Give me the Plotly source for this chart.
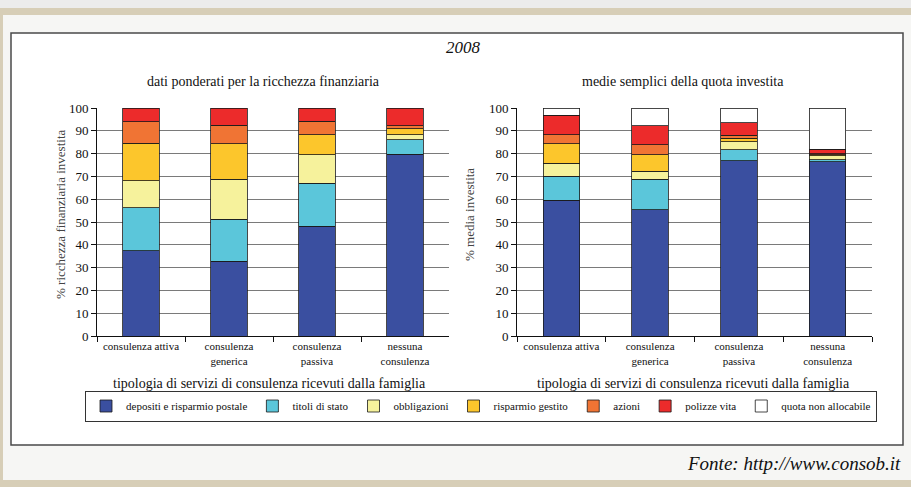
import plotly.graph_objects as go

W, H = 911, 487

# Categories (advisory services received by the household)
categories = ["consulenza attiva", "consulenza<br>generica", "consulenza<br>passiva", "nessuna<br>consulenza"]

series_names = ["depositi e risparmio postale", "titoli di stato", "obbligazioni",
                "risparmio gestito", "azioni", "polizze vita", "quota non allocabile"]
series_colors = ["#3a4fa0", "#5bc6da", "#f6f29c", "#fcc62c", "#f07434", "#ec2b2b", "#ffffff"]

# Left panel: weighted by financial wealth (%)
depositi_L = [37.5, 32.8, 48.1, 79.7]
titoli_L = [18.7, 18.4, 19.0, 6.3]
obbligazioni_L = [11.8, 17.6, 12.3, 2.3]
gestito_L = [16.6, 15.6, 8.8, 2.5]
azioni_L = [9.4, 8.0, 5.9, 1.5]
polizze_L = [6.0, 7.6, 5.9, 7.7]

# Right panel: simple means of invested share (%)
depositi_R = [59.6, 55.3, 76.8, 76.5]
titoli_R = [10.5, 13.5, 5.0, 0.7]
obbligazioni_R = [5.6, 3.4, 3.5, 1.8]
gestito_R = [8.6, 7.2, 1.5, 0.5]
azioni_R = [3.9, 4.4, 1.3, 0.5]
polizze_R = [8.6, 8.4, 5.5, 2.0]
quota_R = [3.2, 7.8, 6.4, 18.0]

y_ticks = list(range(0, 101, 10))

left_series = [depositi_L, titoli_L, obbligazioni_L, gestito_L, azioni_L, polizze_L]
right_series = [depositi_R, titoli_R, obbligazioni_R, gestito_R, azioni_R, polizze_R, quota_R]

SERIF = "Liberation Serif"


def px(x):
    return x / W


def py(y):
    return 1 - y / H


fig = go.Figure()

for i, vals in enumerate(left_series):
    fig.add_trace(go.Bar(
        x=categories, y=vals, name=series_names[i], legendgroup=series_names[i],
        marker=dict(color=series_colors[i], line=dict(color="#1a1a1a", width=0.8)),
        width=0.41, xaxis="x", yaxis="y", showlegend=True,
    ))

for i, vals in enumerate(right_series):
    fig.add_trace(go.Bar(
        x=categories, y=vals, name=series_names[i], legendgroup=series_names[i],
        marker=dict(color=series_colors[i], line=dict(color="#1a1a1a", width=0.8)),
        width=0.41, xaxis="x2", yaxis="y2", showlegend=(i == 6),
    ))

plot_top, plot_bottom = 108, 336
axis_common = dict(
    showline=True, linecolor="#111", linewidth=1,
    tickfont=dict(family=SERIF, size=11, color="#111"),
)
yaxis_common = dict(
    range=[0, 100], tickvals=y_ticks, ticks="outside", ticklen=5, tickcolor="#111",
    showgrid=True, gridcolor="#7a7a7a", gridwidth=1.2, zeroline=False,
    showline=True, linecolor="#111", linewidth=1,
    tickfont=dict(family=SERIF, size=13, color="#111"),
)

fig.update_layout(
    width=W, height=H,
    margin=dict(l=0, r=0, t=0, b=0, autoexpand=False),
    paper_bgcolor="#f6f6f4", plot_bgcolor="rgba(0,0,0,0)",
    barmode="stack",
    xaxis=dict(domain=[px(97), px(449)], anchor="y", ticks="outside", ticklen=5,
               tickcolor="#111", tickson="boundaries", **axis_common),
    yaxis=dict(domain=[py(plot_bottom), py(plot_top)], anchor="x", **yaxis_common),
    xaxis2=dict(domain=[px(517), px(872)], anchor="y2", ticks="outside", ticklen=5,
                tickcolor="#111", tickson="boundaries", **axis_common),
    yaxis2=dict(domain=[py(plot_bottom), py(plot_top)], anchor="x2", **yaxis_common),
    legend=dict(
        orientation="h", x=px(481), xanchor="center", y=py(406), yanchor="middle",
        font=dict(family=SERIF, size=11, color="#111"), traceorder="normal",
        bgcolor="#ffffff", bordercolor="#333", borderwidth=1, itemwidth=30,
        tracegroupgap=0,
    ),
    font=dict(family=SERIF, color="#111"),
)

shapes = [
    # page bands
    dict(type="rect", xref="paper", yref="paper", x0=0, x1=1, y0=py(8), y1=1,
         fillcolor="#ececec", line=dict(width=0), layer="below"),
    dict(type="rect", xref="paper", yref="paper", x0=0, x1=1, y0=py(15), y1=py(8),
         fillcolor="#d7ceb7", line=dict(width=0), layer="below"),
    dict(type="rect", xref="paper", yref="paper", x0=0, x1=px(3), y0=py(480), y1=py(15),
         fillcolor="#d7ceb7", line=dict(width=0), layer="below"),
    dict(type="rect", xref="paper", yref="paper", x0=0, x1=1, y0=0, y1=py(480),
         fillcolor="#d7ceb7", line=dict(width=0), layer="below"),
    # chart frame
    dict(type="rect", xref="paper", yref="paper", x0=px(11), x1=px(903), y0=py(445), y1=py(33),
         fillcolor="#ffffff", line=dict(color="#4a4a4a", width=1.5), layer="below"),
]
fig.update_layout(shapes=shapes)

annotations = [
    dict(text="<i>2008</i>", x=px(463), y=py(47), font=dict(family=SERIF, size=17)),
    dict(text="dati ponderati per la ricchezza finanziaria", x=px(263), y=py(82),
         font=dict(family=SERIF, size=14)),
    dict(text="medie semplici della quota investita", x=px(683), y=py(82),
         font=dict(family=SERIF, size=14)),
    dict(text="% ricchezza finanziaria investita", x=px(61), y=py(214), textangle=-90,
         font=dict(family=SERIF, size=13, color="#444")),
    dict(text="% media investita", x=px(470), y=py(214), textangle=-90,
         font=dict(family=SERIF, size=13, color="#444")),
    dict(text="tipologia di servizi di consulenza ricevuti dalla famiglia", x=px(269), y=py(383),
         font=dict(family=SERIF, size=14)),
    dict(text="tipologia di servizi di consulenza ricevuti dalla famiglia", x=px(693), y=py(383),
         font=dict(family=SERIF, size=14)),
    dict(text="<i>Fonte: http://www.consob.it</i>", x=px(903), y=py(463), xanchor="right",
         font=dict(family=SERIF, size=19)),
]
for a in annotations:
    a.setdefault("xanchor", "center")
    a.update(xref="paper", yref="paper", yanchor="middle", showarrow=False)
fig.update_layout(annotations=annotations)

fig.write_html("out.html")
